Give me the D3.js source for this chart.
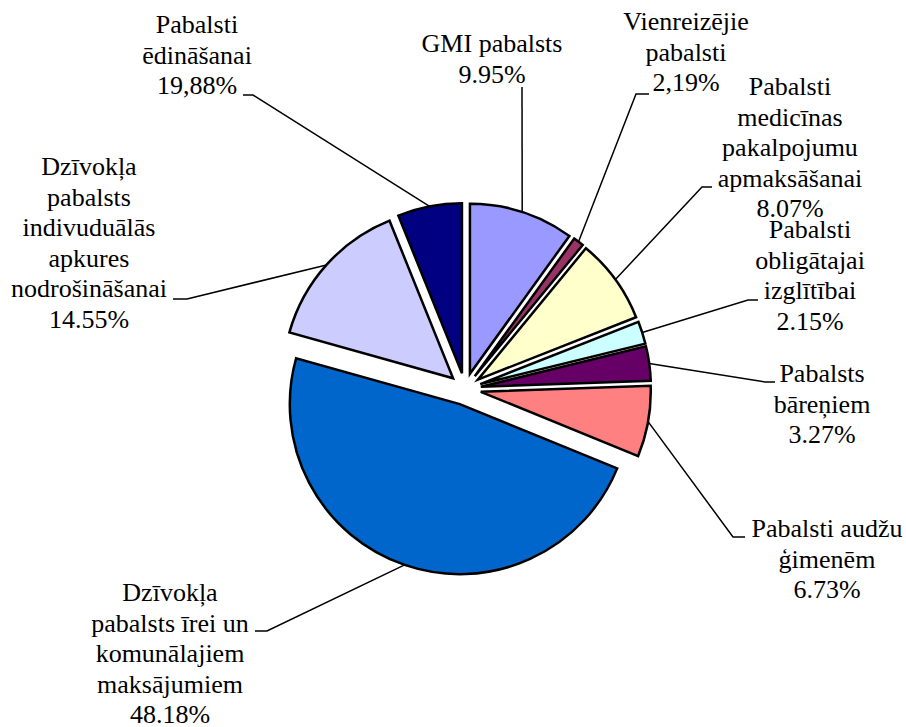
<!DOCTYPE html>
<html>
<head>
<meta charset="utf-8">
<script src="https://cdn.jsdelivr.net/npm/d3@7"></script>
<style>
    body { margin: 0; background: #fff; }
</style>
</head>
<body>
<script>
// slice order, clockwise from 12 o'clock
const categories = [
    ["GMI pabalsts"],
    ["Vienreizējie", "pabalsti"],
    ["Pabalsti", "medicīnas", "pakalpojumu", "apmaksāšanai"],
    ["Pabalsti", "obligātajai", "izglītībai"],
    ["Pabalsts", "bāreņiem"],
    ["Pabalsti audžu", "ģimenēm"],
    ["Dzīvokļa", "pabalsts īrei un", "komunālajiem", "maksājumiem"],
    ["Dzīvokļa", "pabalsts", "indivuduālās", "apkures", "nodrošināšanai"],
    ["Pabalsti", "ēdināšanai"]
]

// percentages as printed on the labels
const labelPct = ["9.95%", "2,19%", "8.07%", "2.15%", "3.27%", "6.73%", "48.18%", "14.55%", "19,88%"]

const shares = [9.95, 1.0, 8.07, 2.15, 3.27, 6.73, 48.18, 14.55, 6.1]

const colors = ["#9999FF", "#993366", "#FFFFCC", "#CCFFFF", "#660066", "#FF8080", "#0066CC", "#CCCCFF", "#000080"]

// label layout: centre x, first baseline, leader start (at text) and bend
const labelLayout = [
    { x: 492, y: 52, p1: [522, 87], p2: [522, 87] },
    { x: 686, y: 30, p1: [649, 94], p2: [636, 94] },
    { x: 790, y: 95, p1: [712, 187], p2: [702, 187] },
    { x: 810, y: 238, p1: [758, 300], p2: [748, 300] },
    { x: 822, y: 382, p1: [775, 382], p2: [765, 382] },
    { x: 827, y: 537, p1: [745, 537], p2: [733, 537] },
    { x: 170, y: 601, p1: [255, 631], p2: [267, 631] },
    { x: 89, y: 175, p1: [173, 299], p2: [187, 299] },
    { x: 197, y: 33, p1: [243, 95], p2: [253, 95] }
]

const width = 906,
    height = 727,
    cx = 465,
    cy = 389,
    radius = 170,
    explode = 16,
    lineGap = 30.5

let svg = d3.select("body")
    .append("svg")
    .attr("width", width)
    .attr("height", height)

let pie = d3.pie()
    .sort(null)
    .value(d => d)

let arcs = pie(shares)

let arc = d3.arc()
    .innerRadius(0)
    .outerRadius(radius)

function offset(d) {
    let mid = (d.startAngle + d.endAngle) / 2
    return [cx + explode * Math.sin(mid), cy - explode * Math.cos(mid)]
}

function rimPoint(d) {
    let mid = (d.startAngle + d.endAngle) / 2
    let o = offset(d)
    return [o[0] + radius * Math.sin(mid), o[1] - radius * Math.cos(mid)]
}

// slices
svg.selectAll("path.slice")
    .data(arcs)
    .join("path")
    .attr("class", "slice")
    .attr("transform", d => `translate(${offset(d)})`)
    .attr("d", arc)
    .attr("fill", (d, i) => colors[i])
    .attr("stroke", "#000")
    .attr("stroke-width", 2.5)
    .attr("stroke-linejoin", "miter")

// leader lines
svg.selectAll("polyline.leader")
    .data(arcs)
    .join("polyline")
    .attr("class", "leader")
    .attr("points", (d, i) => [labelLayout[i].p1, labelLayout[i].p2, rimPoint(d)].map(p => p.join(",")).join(" "))
    .attr("fill", "none")
    .attr("stroke", "#000")
    .attr("stroke-width", 1.5)

// labels
let labels = svg.selectAll("text.label")
    .data(categories)
    .join("text")
    .attr("class", "label")
    .attr("text-anchor", "middle")
    .attr("font-family", "'Times New Roman', Tinos, 'Liberation Serif', 'Nimbus Roman', 'Nimbus Roman No9 L', 'Noto Serif', FreeSerif, 'DejaVu Serif', 'Noto Serif CJK SC', 'Noto Serif CJK JP', serif")
    .attr("font-size", 26)
    .attr("fill", "#000")
    .attr("x", (d, i) => labelLayout[i].x)
    .attr("y", (d, i) => labelLayout[i].y)

labels.selectAll("tspan")
    .data((d, i) => d.concat([labelPct[i]]).map(t => ({ t: t, x: labelLayout[i].x })))
    .join("tspan")
    .attr("x", d => d.x)
    .attr("dy", (d, j) => j === 0 ? 0 : lineGap)
    .text(d => d.t)
</script>
</body>
</html>
